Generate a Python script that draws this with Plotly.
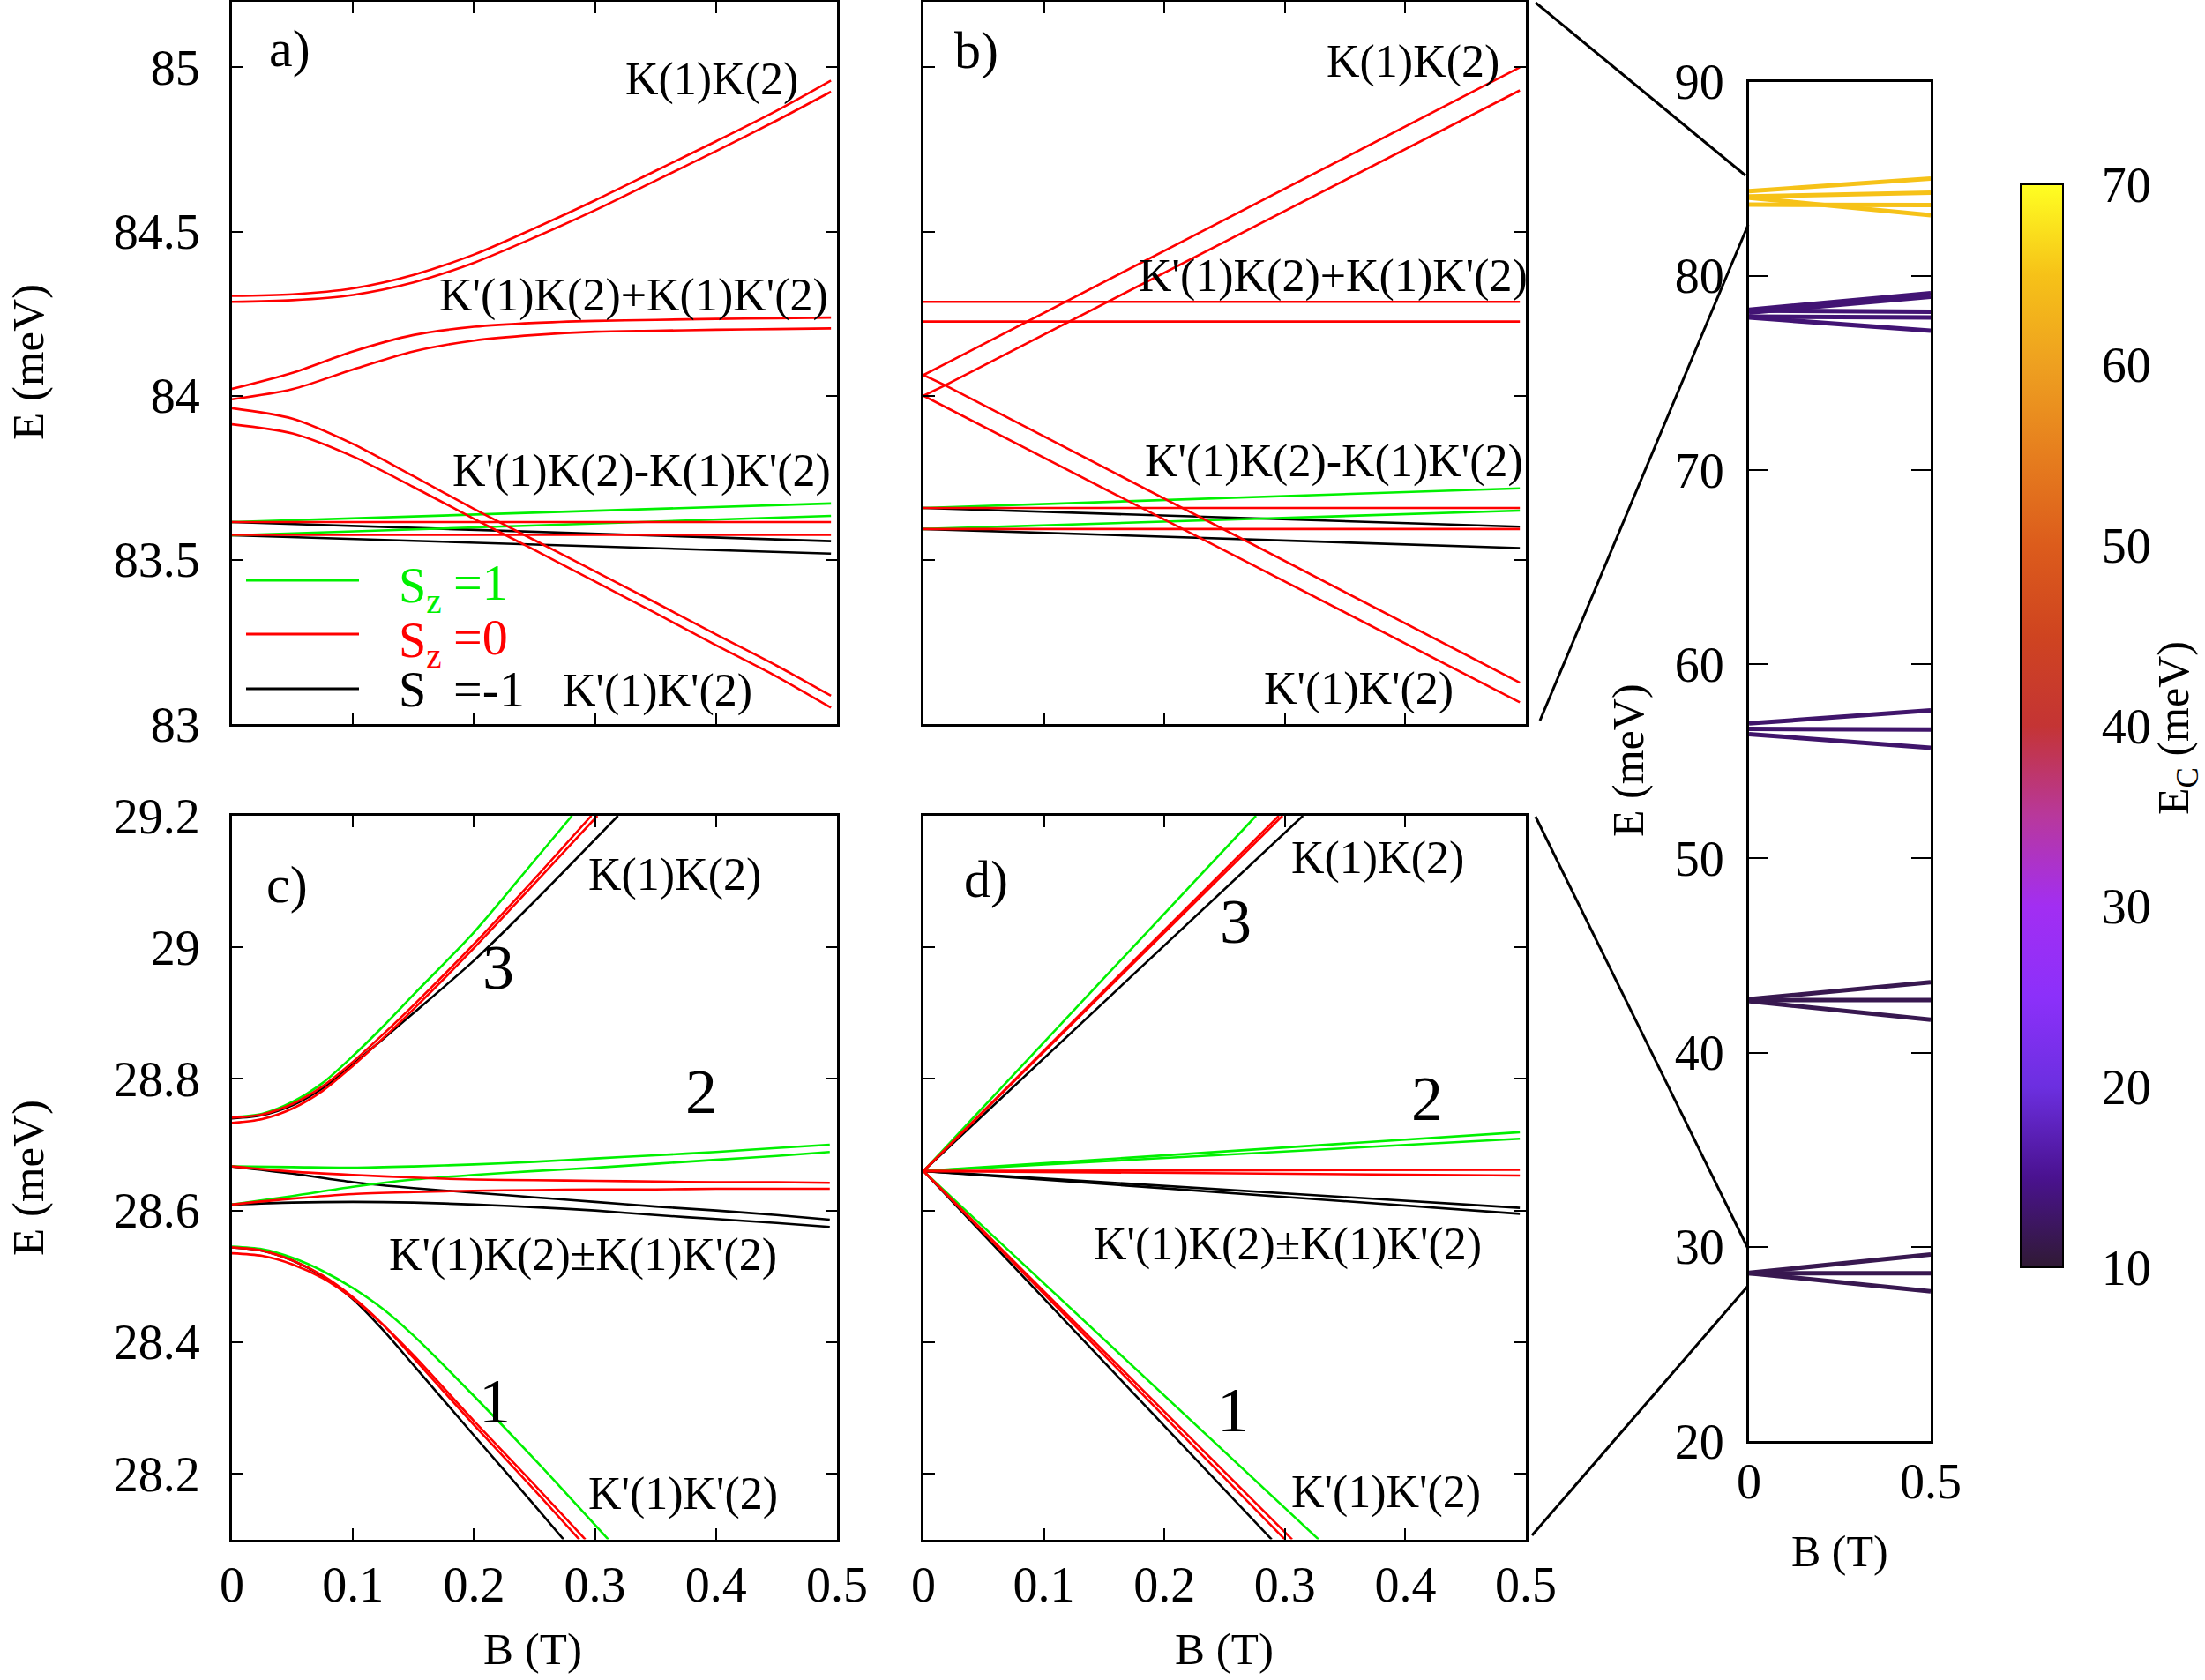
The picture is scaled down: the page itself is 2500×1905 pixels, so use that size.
import plotly.graph_objects as go
from plotly.colors import sample_colorscale

W, H = 2500, 1905
FONT = "Liberation Serif"
GREEN, RED, BLACK = "#00f000", "#ff0000", "#000000"
TICK_SIZE = 56

# ---------------- data: panel a (B in T, E in meV) ----------------
a_B = [0, 0.05, 0.1, 0.15, 0.2, 0.25, 0.3, 0.35, 0.4, 0.45, 0.495]
a_KK_hi = [84.304, 84.309, 84.327, 84.368, 84.43, 84.51, 84.595, 84.685, 84.775, 84.868, 84.96]
a_KK_lo = [84.286, 84.291, 84.307, 84.345, 84.405, 84.482, 84.565, 84.655, 84.745, 84.838, 84.926]
a_sym_hi = [84.021, 84.07, 84.135, 84.185, 84.21, 84.222, 84.228, 84.231, 84.234, 84.236, 84.238]
a_sym_lo = [83.989, 84.02, 84.08, 84.135, 84.168, 84.185, 84.195, 84.198, 84.201, 84.203, 84.205]
a_KpKp_hi = [83.962, 83.93, 83.853, 83.755, 83.655, 83.56, 83.465, 83.37, 83.273, 83.178, 83.086]
a_KpKp_lo = [83.913, 83.885, 83.815, 83.722, 83.625, 83.53, 83.434, 83.338, 83.24, 83.145, 83.05]
a_B_ends = [0, 0.495]
a_green = [[83.615, 83.672], [83.575, 83.634]]
a_red = [[83.615, 83.615], [83.576, 83.576]]
a_black = [[83.615, 83.557], [83.575, 83.519]]

# ---------------- data: panel b ----------------
b_B = [0, 0.018, 0.495]
b_up1 = [84.063, 84.097, 85.0]
b_up2 = [84.0, 84.032, 84.93]
b_dn1 = [84.063, 84.032, 83.126]
b_dn2 = [84.0, 83.966, 83.066]
b_B_ends = [0, 0.495]
b_red_flat = [[84.286, 84.286], [84.226, 84.226], [83.658, 83.658], [83.594, 83.594]]
b_green = [[83.658, 83.718], [83.594, 83.65]]
b_black = [[83.658, 83.601], [83.594, 83.536]]

# ---------------- data: panel c ----------------
c_B7 = [0, 0.025, 0.05, 0.075, 0.1, 0.125, 0.15, 0.2, 0.25]
c_up_green_B = c_B7 + [0.281]
c_up_green_E = [28.742, 28.747, 28.765, 28.794, 28.835, 28.88, 28.928, 29.023, 29.132, 29.2]
c_up_red1_B = c_B7 + [0.297]
c_up_red1_E = [28.741, 28.746, 28.762, 28.789, 28.826, 28.868, 28.912, 29.005, 29.104, 29.2]
c_up_red2_B = c_B7 + [0.302]
c_up_red2_E = [28.733, 28.739, 28.755, 28.782, 28.82, 28.862, 28.906, 28.999, 29.097, 29.2]
c_up_black_B = c_B7 + [0.319]
c_up_black_E = [28.74, 28.745, 28.76, 28.786, 28.822, 28.861, 28.9, 28.98, 29.07, 29.2]

c_mid_B = [0, 0.05, 0.1, 0.15, 0.2, 0.25, 0.3, 0.35, 0.4, 0.45, 0.494]
c_mid_green_hi = [28.667, 28.666, 28.665, 28.667, 28.670, 28.674, 28.679, 28.684, 28.689, 28.695, 28.700]
c_mid_green_lo = [28.609, 28.622, 28.636, 28.647, 28.654, 28.660, 28.665, 28.671, 28.677, 28.683, 28.689]
c_mid_red_hi = [28.667, 28.659, 28.654, 28.650, 28.647, 28.646, 28.645, 28.644, 28.643, 28.643, 28.642]
c_mid_red_lo = [28.609, 28.618, 28.625, 28.628, 28.630, 28.631, 28.632, 28.632, 28.633, 28.633, 28.633]
c_mid_black_hi = [28.667, 28.656, 28.643, 28.634, 28.627, 28.620, 28.613, 28.606, 28.600, 28.593, 28.586]
c_mid_black_lo = [28.609, 28.612, 28.613, 28.612, 28.609, 28.605, 28.600, 28.593, 28.587, 28.581, 28.575]

c_dn_green_B = c_B7 + [0.311]
c_dn_green_E = [28.545, 28.541, 28.528, 28.508, 28.482, 28.45, 28.41, 28.318, 28.222, 28.1]
c_dn_red1_B = c_B7 + [0.287]
c_dn_red1_E = [28.544, 28.539, 28.524, 28.501, 28.468, 28.426, 28.376, 28.274, 28.175, 28.1]
c_dn_red2_B = c_B7 + [0.292]
c_dn_red2_E = [28.535, 28.531, 28.518, 28.497, 28.466, 28.426, 28.38, 28.28, 28.183, 28.1]
c_dn_black_B = c_B7[:-1] + [0.25, 0.274]
c_dn_black_E = [28.544, 28.539, 28.524, 28.5, 28.465, 28.418, 28.365, 28.258, 28.152, 28.1]

# ---------------- data: panel d (straight fans from E0) ----------------
d_E0 = 28.66
d_up_B_end = {"green": [0.276], "red": [0.295, 0.298], "black": [0.315]}
d_up_E_end = 29.2
d_dn_B_end = {"green": [0.328], "red": [0.300, 0.306], "black": [0.289]}
d_dn_E_end = 28.1
d_mid_B_end = 0.495
d_mid_E_end = {"green": [28.719, 28.709], "red": [28.662, 28.653], "black": [28.604, 28.595]}

# ---------------- data: right overview panel ----------------
r_B = [0, 0.5]
r_EC = [11.5, 11.5, 13, 13.5, 65]
r_E0 = [[28.66, 28.64, 28.64], [42.75, 42.7, 42.65], [56.95, 56.67, 56.4],
        [78.25, 78.1, 78.2, 77.9, 77.85], [84.36, 84.08, 84.02, 83.66]]
r_E1 = [[29.6, 28.64, 27.71], [43.63, 42.7, 41.69], [57.62, 56.64, 55.69],
        [79.1, 78.92, 78.15, 77.85, 77.17], [85.0, 84.28, 83.12, 83.64]]

# ---------------- ticks ----------------
B_ticks = [0, 0.1, 0.2, 0.3, 0.4, 0.5]
B_ticktext = ["0", "0.1", "0.2", "0.3", "0.4", "0.5"]
ab_yticks = [83, 83.5, 84, 84.5, 85]
ab_yticktext = ["83", "83.5", "84", "84.5", "85"]
cd_yticks = [28.2, 28.4, 28.6, 28.8, 29.0, 29.2]
cd_yticktext = ["28.2", "28.4", "28.6", "28.8", "29", "29.2"]
r_xticks = [0, 0.5]
r_xticktext = ["0", "0.5"]
r_yticks = [20, 30, 40, 50, 60, 70, 80, 90]
cb_ticks = [10, 20, 30, 40, 50, 60, 70]
EC_min, EC_max = 10, 70

CS = [[0.0, "#301a34"], [0.0833, "#4a1290"], [0.1667, "#6c2fe0"], [0.25, "#8c30fa"],
      [0.3333, "#a22ef2"], [0.4167, "#b8389c"], [0.5, "#c43434"], [0.5833, "#cf4420"],
      [0.6667, "#dc5c1c"], [0.75, "#e67e1e"], [0.8333, "#eea020"], [0.9167, "#f6c218"],
      [1.0, "#ffff22"]]

fig = go.Figure()


def line(xa, ya, x, y, color, width=2.6, shape="linear"):
    fig.add_trace(go.Scatter(x=x, y=y, mode="lines",
                             line=dict(color=color, width=width, shape=shape, smoothing=0.8),
                             xaxis=xa, yaxis=ya, showlegend=False, hoverinfo="skip"))


SP = "spline"
# panel a
for e in a_black:
    line("x", "y", a_B_ends, e, BLACK)
for e in a_green:
    line("x", "y", a_B_ends, e, GREEN)
for e in a_red:
    line("x", "y", a_B_ends, e, RED)
for e in (a_KK_hi, a_KK_lo, a_sym_hi, a_sym_lo, a_KpKp_hi, a_KpKp_lo):
    line("x", "y", a_B, e, RED, shape=SP)

# panel b
for e in b_black:
    line("x2", "y2", b_B_ends, e, BLACK)
for e in b_green:
    line("x2", "y2", b_B_ends, e, GREEN)
for e in b_red_flat:
    line("x2", "y2", b_B_ends, e, RED)
for e in (b_up1, b_up2, b_dn1, b_dn2):
    line("x2", "y2", b_B, e, RED)

# panel c
line("x3", "y3", c_up_black_B, c_up_black_E, BLACK, shape=SP)
line("x3", "y3", c_up_green_B, c_up_green_E, GREEN, shape=SP)
line("x3", "y3", c_up_red1_B, c_up_red1_E, RED, shape=SP)
line("x3", "y3", c_up_red2_B, c_up_red2_E, RED, shape=SP)
line("x3", "y3", c_mid_B, c_mid_black_hi, BLACK, shape=SP)
line("x3", "y3", c_mid_B, c_mid_black_lo, BLACK, shape=SP)
line("x3", "y3", c_mid_B, c_mid_green_hi, GREEN, shape=SP)
line("x3", "y3", c_mid_B, c_mid_green_lo, GREEN, shape=SP)
line("x3", "y3", c_mid_B, c_mid_red_hi, RED, shape=SP)
line("x3", "y3", c_mid_B, c_mid_red_lo, RED, shape=SP)
line("x3", "y3", c_dn_black_B, c_dn_black_E, BLACK, shape=SP)
line("x3", "y3", c_dn_green_B, c_dn_green_E, GREEN, shape=SP)
line("x3", "y3", c_dn_red1_B, c_dn_red1_E, RED, shape=SP)
line("x3", "y3", c_dn_red2_B, c_dn_red2_E, RED, shape=SP)

# panel d
cmap = {"green": GREEN, "red": RED, "black": BLACK}
for key in ("black", "green", "red"):
    for b in d_up_B_end[key]:
        line("x4", "y4", [0, b], [d_E0, d_up_E_end], cmap[key])
    for b in d_dn_B_end[key]:
        line("x4", "y4", [0, b], [d_E0, d_dn_E_end], cmap[key])
    for e in d_mid_E_end[key]:
        line("x4", "y4", [0, d_mid_B_end], [d_E0, e], cmap[key])

# right panel, lines coloured by E_C
for ec, e0s, e1s in zip(r_EC, r_E0, r_E1):
    col = sample_colorscale(CS, [(ec - EC_min) / (EC_max - EC_min)])[0]
    for e0, e1 in zip(e0s, e1s):
        line("x5", "y5", r_B, [e0, e1], col, width=5)

# colour bar carrier
fig.add_trace(go.Scatter(
    x=[None], y=[None], mode="markers", xaxis="x5", yaxis="y5", showlegend=False,
    marker=dict(color=[EC_min], cmin=EC_min, cmax=EC_max, colorscale=CS, showscale=True,
                colorbar=dict(x=2291 / W, xanchor="left", xpad=0,
                              y=1 - (209 + 1437) / 2 / H, yanchor="middle", ypad=0,
                              len=1228, lenmode="pixels", thickness=48, thicknessmode="pixels",
                              outlinewidth=2, outlinecolor="black",
                              tickvals=cb_ticks, ticks="outside", ticklen=32,
                              tickcolor="rgba(0,0,0,0)",
                              tickfont=dict(family=FONT, size=TICK_SIZE, color="black")))))


def ax(domain, rng, tickvals, ticktext, labels, anchor, ticklen=13, standoff=22):
    return dict(domain=domain, range=rng, anchor=anchor, showline=True, linecolor="black",
                linewidth=3, mirror="ticks", ticks="inside", ticklen=ticklen, tickwidth=2,
                tickcolor="black", tickvals=tickvals, ticktext=ticktext,
                showticklabels=labels, showgrid=False, zeroline=False, fixedrange=True,
                ticklabelstandoff=standoff,
                tickfont=dict(family=FONT, size=TICK_SIZE, color="black"))


xa_dom = [263 / W, 949 / W]
xb_dom = [1047 / W, 1730 / W]
ytop_dom = [1 - 821 / H, 1 - 2 / H]
ybot_dom = [1 - 1745.6 / H, 1 - 925 / H]

fig.update_layout(
    width=W, height=H, margin=dict(l=0, r=0, t=0, b=0, autoexpand=False),
    paper_bgcolor="white", plot_bgcolor="white",
    font=dict(family=FONT, color="black"),
    xaxis=ax(xa_dom, [0, 0.5], B_ticks, B_ticktext, False, "y"),
    yaxis=ax(ytop_dom, [83, 85.2], ab_yticks, ab_yticktext, True, "x"),
    xaxis2=ax(xb_dom, [0, 0.5], B_ticks, B_ticktext, False, "y2"),
    yaxis2=ax(ytop_dom, [83, 85.2], ab_yticks, ab_yticktext, False, "x2"),
    xaxis3=ax(xa_dom, [0, 0.5], B_ticks, B_ticktext, True, "y3", standoff=0),
    yaxis3=ax(ybot_dom, [28.1, 29.2], cd_yticks, cd_yticktext, True, "x3"),
    xaxis4=ax(xb_dom, [0, 0.5], B_ticks, B_ticktext, True, "y4", standoff=0),
    yaxis4=ax(ybot_dom, [28.1, 29.2], cd_yticks, cd_yticktext, False, "x4"),
    xaxis5=ax([1983 / W, 2189 / W], [0, 0.5], r_xticks, r_xticktext, True, "y5",
              ticklen=22, standoff=-5),
    yaxis5=ax([1 - 1634 / H, 1 - 92.5 / H], [20, 90], r_yticks, None, True, "x5",
              ticklen=22, standoff=14),
)


def P(x, y):
    return x / W, 1 - y / H


annotations = []


def ann(text, x, y, size=52, color="black", angle=0, xanchor="center"):
    px_, py_ = P(x, y)
    annotations.append(dict(text=text, x=px_, y=py_, xref="paper", yref="paper",
                            showarrow=False, textangle=angle, xanchor=xanchor,
                            yanchor="middle",
                            font=dict(family=FONT, size=size, color=color)))


# panel labels
ann("a)", 328, 55, 60)
ann("b)", 1107, 57, 60)
ann("c)", 326, 1003, 60)
ann("d)", 1118, 997, 60)
# state labels panel a / b
ann("K(1)K(2)", 807, 90)
ann("K'(1)K(2)+K(1)K'(2)", 718, 335)
ann("K'(1)K(2)-K(1)K'(2)", 727, 534)
ann("K'(1)K'(2)", 745, 783)
ann("K(1)K(2)", 1602, 70)
ann("K'(1)K(2)+K(1)K'(2)", 1511, 313)
ann("K'(1)K(2)-K(1)K'(2)", 1512, 523)
ann("K'(1)K'(2)", 1541, 781)
# panel c / d
ann("K(1)K(2)", 765, 992)
ann("K'(1)K(2)±K(1)K'(2)", 661, 1423)
ann("K'(1)K'(2)", 774, 1694)
ann("3", 565, 1097, 72)
ann("2", 795, 1238, 72)
ann("1", 561, 1589, 72)
ann("K(1)K(2)", 1562, 973)
ann("K'(1)K(2)±K(1)K'(2)", 1460, 1411)
ann("K'(1)K'(2)", 1571, 1692)
ann("3", 1401, 1045, 72)
ann("2", 1618, 1246, 72)
ann("1", 1398, 1599, 72)
# legend text
ann("S<sub>z</sub>", 450, 668, 56, GREEN, xanchor="left")
ann("=1", 512, 660, 58, GREEN, xanchor="left")
ann("S<sub>z</sub>", 450, 730, 56, RED, xanchor="left")
ann("=0", 512, 722, 58, RED, xanchor="left")
ann("S", 450, 782, 56, BLACK, xanchor="left")
ann("=-1", 512, 782, 58, BLACK, xanchor="left")
# axis titles
ann("E (meV)", 32, 411, 51, angle=-90)
ann("E (meV)", 32, 1336, 51, angle=-90)
ann("B (T)", 604, 1870, 51)
ann("B (T)", 1388, 1870, 51)
ann("E (meV)", 1846, 862, 50, angle=-90)
ann("B (T)", 2086, 1759, 50)
ann("E<sub>C</sub> (meV)", 2468, 826, 50, angle=-90)

shapes = []


def seg(x0, y0, x1, y1, color="black", width=3):
    a0, b0 = P(x0, y0)
    a1, b1 = P(x1, y1)
    shapes.append(dict(type="line", xref="paper", yref="paper", x0=a0, y0=b0, x1=a1, y1=b1,
                       line=dict(color=color, width=width)))


# legend keys
seg(279, 658, 407, 658, GREEN)
seg(279, 719, 407, 719, RED)
seg(279, 781, 407, 781, BLACK)
# zoom connectors
seg(1741, 3, 1979, 199)
seg(1746, 817, 1982, 255)
seg(1741, 926, 1982, 1416)
seg(1737, 1741, 1982, 1458)
# colour bar inner tick marks
for v in cb_ticks[1:-1]:
    yv = 1437 - (v - EC_min) / (EC_max - EC_min) * 1228
    seg(2293, yv, 2312, yv, "black", 2)
    seg(2318, yv, 2337, yv, "black", 2)

fig.update_layout(annotations=annotations, shapes=shapes)
fig.write_html("out.html")
